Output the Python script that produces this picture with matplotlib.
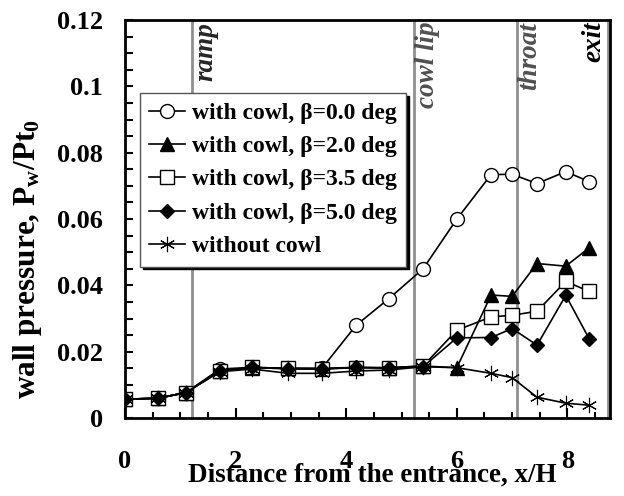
import matplotlib
matplotlib.use("Agg")
import matplotlib.pyplot as plt
from matplotlib.ticker import MultipleLocator

plt.rcParams['font.family'] = ['Liberation Serif', 'DejaVu Serif']
plt.rcParams['font.weight'] = 'bold'
plt.rcParams['mathtext.fontset'] = 'custom'
plt.rcParams['mathtext.rm'] = 'Liberation Serif:bold'
plt.rcParams['mathtext.it'] = 'Liberation Serif:italic:bold'
plt.rcParams['mathtext.bf'] = 'Liberation Serif:bold'

# distance from entrance, x/H
x = [0, 0.6, 1.1, 1.72, 2.3, 2.95, 3.56, 4.18, 4.77, 5.39, 6.0, 6.62, 7.0, 7.45, 7.97, 8.39]

# wall pressure Pw/Pt0
beta00 = [0.0057, 0.006, 0.0077, 0.0148, 0.0153, 0.015, 0.015, 0.028, 0.036, 0.045,
          0.060, 0.0734, 0.0735, 0.0707, 0.0743, 0.0713]
beta20 = [0.0057, 0.006, 0.0077, 0.0143, 0.0152, 0.015, 0.015, 0.0153, 0.0152, 0.0157,
          0.0152, 0.0371, 0.0367, 0.0466, 0.0458, 0.0513]
beta35 = [0.0057, 0.006, 0.0077, 0.0142, 0.0153, 0.015, 0.0148, 0.0152, 0.0152, 0.0157,
          0.0265, 0.0305, 0.031, 0.0322, 0.0412, 0.0382]
beta50 = [0.0057, 0.006, 0.0077, 0.0143, 0.0153, 0.0148, 0.0148, 0.0153, 0.015, 0.0155,
          0.0242, 0.0243, 0.027, 0.022, 0.037, 0.024]
nocowl = [0.0057, 0.006, 0.0077, 0.014, 0.0148, 0.0135, 0.0135, 0.0142, 0.0145, 0.0155,
          0.0152, 0.0135, 0.0122, 0.0063, 0.0045, 0.0039]

labels = ["with cowl, \u03b2=0.0 deg", "with cowl, \u03b2=2.0 deg",
          "with cowl, \u03b2=3.5 deg", "with cowl, \u03b2=5.0 deg", "without cowl"]

# station markers
stations = [1.21, 5.23, 7.08, 8.73]
station_names = ["ramp", "cowl lip", "throat", "exit"]
station_colors = ["#262626", "#505050", "#505050", "black"]

fig = plt.figure(figsize=(6.24, 4.96), dpi=100)
ax = fig.add_axes([0.2003, 0.157, 0.7773, 0.8027])

for s in stations:
    ax.axvline(s, color="#8f8f8f", lw=2.0, zorder=1)

for s, name, c in zip(stations, station_names, station_colors):
    if name == "exit":
        ax.text(s - 0.03, 0.1195, name, rotation=90, ha="right", va="top",
                fontsize=19.5, style="italic", fontweight="bold", color=c)
    else:
        ax.text(s + 0.02, 0.1195, name, rotation=90, ha="left", va="top",
                fontsize=19.5, style="italic", fontweight="bold", color=c)

lw = 1.2
ax.plot(x, beta00, color="k", lw=lw, marker="o", ms=10, mfc="white", mec="k", mew=1.0,
        label=labels[0], zorder=3)
ax.plot(x, beta20, color="k", lw=lw, marker="^", ms=10, mfc="k", mec="k",
        label=labels[1], zorder=4)
ax.plot(x, beta35, color="k", lw=lw, marker="s", ms=9.5, mfc="white", mec="k", mew=1.0,
        label=labels[2], zorder=5)
ax.plot(x, beta50, color="k", lw=lw, marker="D", ms=7.5, mfc="k", mec="k",
        label=labels[3], zorder=6)
ax.plot(x, nocowl, color="k", lw=lw, marker=(6, 2, 0), ms=11, mec="k", mew=0.8,
        label=labels[4], zorder=7)

ax.set_xlim(0, 8.77)
ax.set_ylim(0, 0.12)
ax.xaxis.set_major_locator(MultipleLocator(2))
ax.xaxis.set_minor_locator(MultipleLocator(0.5))
ax.yaxis.set_major_locator(MultipleLocator(0.02))
ax.yaxis.set_minor_locator(MultipleLocator(0.005))
ax.set_yticks([0, 0.02, 0.04, 0.06, 0.08, 0.1, 0.12])
ax.set_yticklabels(["0", "0.02", "0.04", "0.06", "0.08", "0.1", "0.12"])

ax.tick_params(axis="x", which="major", direction="in", length=7, width=1.5,
               pad=23, labelsize=19)
ax.tick_params(axis="x", which="minor", direction="in", length=4.5, width=1.5)
ax.tick_params(axis="y", which="both", direction="in", length=6, width=1.5,
               pad=16, labelsize=19)
ax.tick_params(top=False, right=False, which="both")

for sp in ax.spines.values():
    sp.set_linewidth(2.0)

ax.set_xlabel("Distance from the entrance, x/H", fontsize=19.5, fontweight="bold")
ax.xaxis.set_label_coords(0.51, -0.112)
ax.set_ylabel(r"wall pressure, P$_{\rm w}$/Pt$_{\rm 0}$", fontsize=22.5, fontweight="bold")
ax.yaxis.set_label_coords(-0.168, 0.40)

leg = ax.legend(loc="upper left", bbox_to_anchor=(0.031, 0.817), borderaxespad=0,
                prop={"family": "Liberation Serif", "weight": "bold", "size": 17},
                handlelength=1.5, handletextpad=0.3, labelspacing=0.5,
                borderpad=0.4, fancybox=False, framealpha=1, edgecolor="#555555",
                shadow={"color": "k", "alpha": 1})
leg.get_frame().set_linewidth(1.0)
leg.set_zorder(10)

fig.savefig("out.png", dpi=100)
